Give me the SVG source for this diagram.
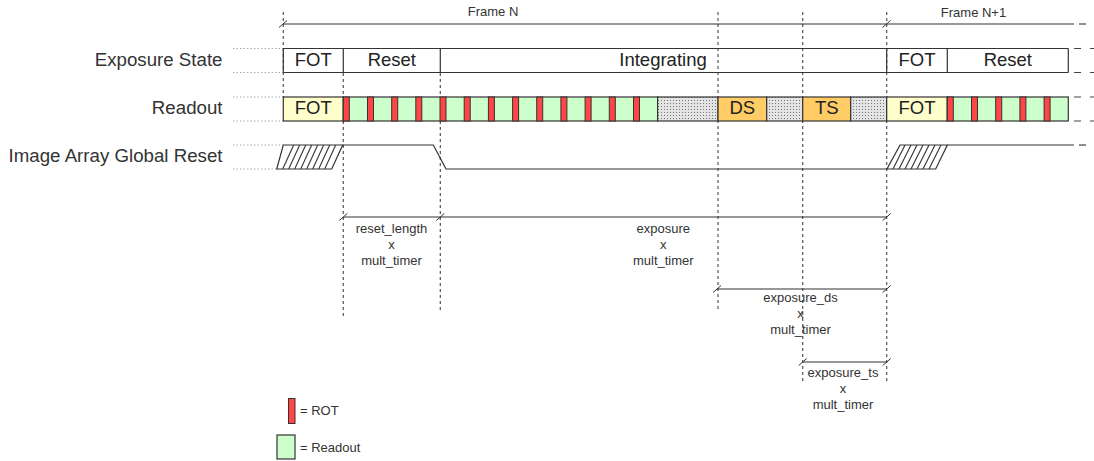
<svg xmlns="http://www.w3.org/2000/svg" width="1094" height="461" viewBox="0 0 1094 461">
<style>
  .lbl{font-family:"Liberation Sans",Arial,sans-serif;font-size:18.7px;fill:#333;text-anchor:end}
  .box{font-family:"Liberation Sans",Arial,sans-serif;font-size:18.5px;fill:#222;text-anchor:middle}
  .sm{font-family:"Liberation Sans",Arial,sans-serif;font-size:13px;fill:#333;text-anchor:middle}
  .lg{font-family:"Liberation Sans",Arial,sans-serif;font-size:13px;fill:#333}
  .guide{stroke:#aaa;stroke-width:1;stroke-dasharray:1.5,2;fill:none}
  .vdash{stroke:#555;stroke-width:1.2;stroke-dasharray:3,3;fill:none}
  .edge{stroke:#333;stroke-width:1.2;fill:none}
  .ext{stroke:#444;stroke-width:1.2;stroke-dasharray:7,9;fill:none}
  .tick{stroke:#333;stroke-width:1;fill:none}
  .fot{fill:#FFFFCC;stroke:#333;stroke-width:1.2}
  .grn{fill:#CCFFCC;stroke:#333;stroke-width:1.2}
  .red{fill:#FF4545;stroke:#333;stroke-width:1}
  .org{fill:#FFCC66;stroke:#333;stroke-width:1.2}
  .dot{fill:url(#dots);stroke:#333;stroke-width:1.2}
  .hatch{stroke:#333;stroke-width:1.1;fill:none}
</style>
<defs>
  <pattern id="dots" width="3" height="3" patternUnits="userSpaceOnUse">
    <rect width="3" height="3" fill="#e4e4e4"/>
    <rect x="1" y="1" width="1" height="1" fill="#777"/>
  </pattern>
  <clipPath id="hL"><polygon points="283.3,145 342.7,145 331.7,169 276.7,169"/></clipPath>
  <clipPath id="hR"><polygon points="900,145 947.3,145 935.7,169 887,169"/></clipPath>
</defs>

<g id="row-labels">
  <line class="guide" x1="233" y1="48.5" x2="283" y2="48.5"/>
  <line class="guide" x1="233" y1="72.5" x2="283" y2="72.5"/>
  <line class="guide" x1="233" y1="97" x2="283" y2="97"/>
  <line class="guide" x1="233" y1="121" x2="283" y2="121"/>
  <line class="guide" x1="233" y1="145" x2="283" y2="145"/>
  <line class="guide" x1="233" y1="169" x2="277" y2="169"/>
  <text class="lbl" x="222.5" y="66">Exposure State</text>
  <text class="lbl" x="222.5" y="114">Readout</text>
  <text class="lbl" x="222.5" y="162">Image Array Global Reset</text>
</g>

<g id="guides">
  <line class="vdash" x1="283.3" y1="12" x2="283.3" y2="97"/>
  <line class="vdash" x1="343.3" y1="73" x2="343.3" y2="317"/>
  <line class="vdash" x1="440.3" y1="73" x2="440.3" y2="311"/>
  <line class="vdash" x1="718" y1="12" x2="718" y2="312"/>
  <line class="vdash" x1="802.7" y1="12" x2="802.7" y2="384"/>
  <line class="vdash" x1="886.7" y1="12" x2="886.7" y2="384"/>
</g>

<g id="frame">
  <line class="edge" x1="283.3" y1="24" x2="405" y2="24" stroke="#888"/>
  <line class="edge" x1="405" y1="24" x2="1074" y2="24" stroke="#444"/>
  <line class="ext" x1="1079" y1="24" x2="1094" y2="24" stroke-dasharray="5.5,6.5"/>
  <line class="tick" x1="279" y1="27.5" x2="287" y2="20.5"/>
  <line class="tick" x1="882.5" y1="27.5" x2="890.5" y2="20.5"/>
  <text class="sm" x="493" y="15.5">Frame N</text>
  <text class="sm" x="973.5" y="16.5">Frame N+1</text>
</g>

<g id="exposure-state">
  <line class="edge" x1="283.3" y1="48.5" x2="1068.3" y2="48.5"/>
  <line class="edge" x1="283.3" y1="72.5" x2="1068.3" y2="72.5"/>
  <line class="edge" x1="283.3" y1="48.5" x2="283.3" y2="72.5"/>
  <line class="edge" x1="343.3" y1="48.5" x2="343.3" y2="72.5"/>
  <line class="edge" x1="440.3" y1="48.5" x2="440.3" y2="72.5"/>
  <line class="edge" x1="886.7" y1="48.5" x2="886.7" y2="72.5"/>
  <line class="edge" x1="947.3" y1="48.5" x2="947.3" y2="72.5"/>
  <line class="edge" x1="1068.3" y1="48.5" x2="1068.3" y2="72.5"/>
  <line class="ext" x1="1074" y1="48.5" x2="1094" y2="48.5"/>
  <line class="ext" x1="1074" y1="72.5" x2="1094" y2="72.5"/>
  <text class="box" x="313.3" y="66">FOT</text>
  <text class="box" x="391.8" y="66">Reset</text>
  <text class="box" x="663" y="66">Integrating</text>
  <text class="box" x="917" y="66">FOT</text>
  <text class="box" x="1007.8" y="66">Reset</text>
</g>

<g id="readout">
  <rect class="fot" x="283.3" y="97" width="60" height="24"/>
  <rect class="grn" x="343.3" y="97" width="314.3" height="24"/>
  <rect class="red" x="343.3" y="97" width="6" height="24"/>
  <rect class="red" x="367.5" y="97" width="6" height="24"/>
  <rect class="red" x="391.7" y="97" width="6" height="24"/>
  <rect class="red" x="415.8" y="97" width="6" height="24"/>
  <rect class="red" x="440.0" y="97" width="6" height="24"/>
  <rect class="red" x="464.2" y="97" width="6" height="24"/>
  <rect class="red" x="488.4" y="97" width="6" height="24"/>
  <rect class="red" x="512.6" y="97" width="6" height="24"/>
  <rect class="red" x="536.7" y="97" width="6" height="24"/>
  <rect class="red" x="560.9" y="97" width="6" height="24"/>
  <rect class="red" x="585.1" y="97" width="6" height="24"/>
  <rect class="red" x="609.3" y="97" width="6" height="24"/>
  <rect class="red" x="633.5" y="97" width="6" height="24"/>
  <rect class="dot" x="657.6" y="97" width="60.4" height="24"/>
  <rect class="org" x="718" y="97" width="48.7" height="24"/>
  <rect class="dot" x="766.7" y="97" width="36" height="24"/>
  <rect class="org" x="802.7" y="97" width="48" height="24"/>
  <rect class="dot" x="850.7" y="97" width="36" height="24"/>
  <rect class="fot" x="886.7" y="97" width="60.6" height="24"/>
  <rect class="grn" x="947.3" y="97" width="121" height="24"/>
  <rect class="red" x="947.3" y="97" width="6" height="24"/>
  <rect class="red" x="971.5" y="97" width="6" height="24"/>
  <rect class="red" x="995.7" y="97" width="6" height="24"/>
  <rect class="red" x="1019.9" y="97" width="6" height="24"/>
  <rect class="red" x="1044.1" y="97" width="6" height="24"/>
  <line class="ext" x1="1074" y1="97" x2="1094" y2="97"/>
  <line class="ext" x1="1074" y1="121" x2="1094" y2="121"/>
  <text class="box" x="313.3" y="114">FOT</text>
  <text class="box" x="742.3" y="114">DS</text>
  <text class="box" x="826.7" y="114">TS</text>
  <text class="box" x="917" y="114">FOT</text>
</g>

<g id="global-reset">
  <g clip-path="url(#hL)">
    <line class="hatch" x1="282.7" y1="169" x2="293.7" y2="145"/>
    <line class="hatch" x1="288.7" y1="169" x2="299.7" y2="145"/>
    <line class="hatch" x1="294.7" y1="169" x2="305.7" y2="145"/>
    <line class="hatch" x1="300.7" y1="169" x2="311.7" y2="145"/>
    <line class="hatch" x1="306.7" y1="169" x2="317.7" y2="145"/>
    <line class="hatch" x1="312.7" y1="169" x2="323.7" y2="145"/>
    <line class="hatch" x1="318.7" y1="169" x2="329.7" y2="145"/>
    <line class="hatch" x1="324.7" y1="169" x2="335.7" y2="145"/>
  </g>
  <polygon class="edge" points="283.3,145 342.7,145 331.7,169 276.7,169"/>
  <polyline class="edge" points="342.7,145 433.3,145 446,169 886.7,169"/>
  <g clip-path="url(#hR)">
    <line class="hatch" x1="893" y1="169" x2="905" y2="145"/>
    <line class="hatch" x1="899" y1="169" x2="911" y2="145"/>
    <line class="hatch" x1="905" y1="169" x2="917" y2="145"/>
    <line class="hatch" x1="911" y1="169" x2="923" y2="145"/>
    <line class="hatch" x1="917" y1="169" x2="929" y2="145"/>
    <line class="hatch" x1="923" y1="169" x2="935" y2="145"/>
    <line class="hatch" x1="929" y1="169" x2="941" y2="145"/>
  </g>
  <polygon class="edge" points="900,145 947.3,145 935.7,169 887,169"/>
  <line class="edge" x1="947.3" y1="145" x2="1074" y2="145"/>
  <line class="ext" x1="1079" y1="145" x2="1094" y2="145" stroke-dasharray="6,6"/>
</g>

<g id="connectors">
  <line class="edge" x1="343.3" y1="217" x2="886.7" y2="217"/>
  <line class="tick" x1="339.3" y1="220.5" x2="347.3" y2="213.5"/>
  <line class="tick" x1="436.3" y1="220.5" x2="444.3" y2="213.5"/>
  <line class="tick" x1="882.7" y1="220.5" x2="890.7" y2="213.5"/>
  <line class="edge" x1="717" y1="289" x2="886.7" y2="289"/>
  <line class="tick" x1="713" y1="292.5" x2="721" y2="285.5"/>
  <line class="tick" x1="882.7" y1="292.5" x2="890.7" y2="285.5"/>
  <line class="edge" x1="802.7" y1="362" x2="886.7" y2="362"/>
  <line class="tick" x1="798.7" y1="365.5" x2="806.7" y2="358.5"/>
  <line class="tick" x1="882.7" y1="365.5" x2="890.7" y2="358.5"/>
</g>

<g id="timing-labels">
  <text class="sm" x="391.5" y="233">reset_length</text>
  <text class="sm" x="391.5" y="249">x</text>
  <text class="sm" x="391.5" y="265">mult_timer</text>
  <text class="sm" x="663.3" y="233">exposure</text>
  <text class="sm" x="663.3" y="249">x</text>
  <text class="sm" x="663.3" y="265">mult_timer</text>
  <text class="sm" x="800.5" y="302">exposure_ds</text>
  <text class="sm" x="800.5" y="318">x</text>
  <text class="sm" x="800.5" y="334">mult_timer</text>
  <text class="sm" x="843" y="377">exposure_ts</text>
  <text class="sm" x="843" y="393">x</text>
  <text class="sm" x="843" y="409">mult_timer</text>
</g>

<g id="legend">
  <rect class="red" x="288.5" y="398.5" width="6.5" height="25"/>
  <text class="lg" x="300" y="415">= ROT</text>
  <rect class="grn" x="277" y="435" width="18" height="24"/>
  <text class="lg" x="300" y="452">= Readout</text>
</g>
</svg>
